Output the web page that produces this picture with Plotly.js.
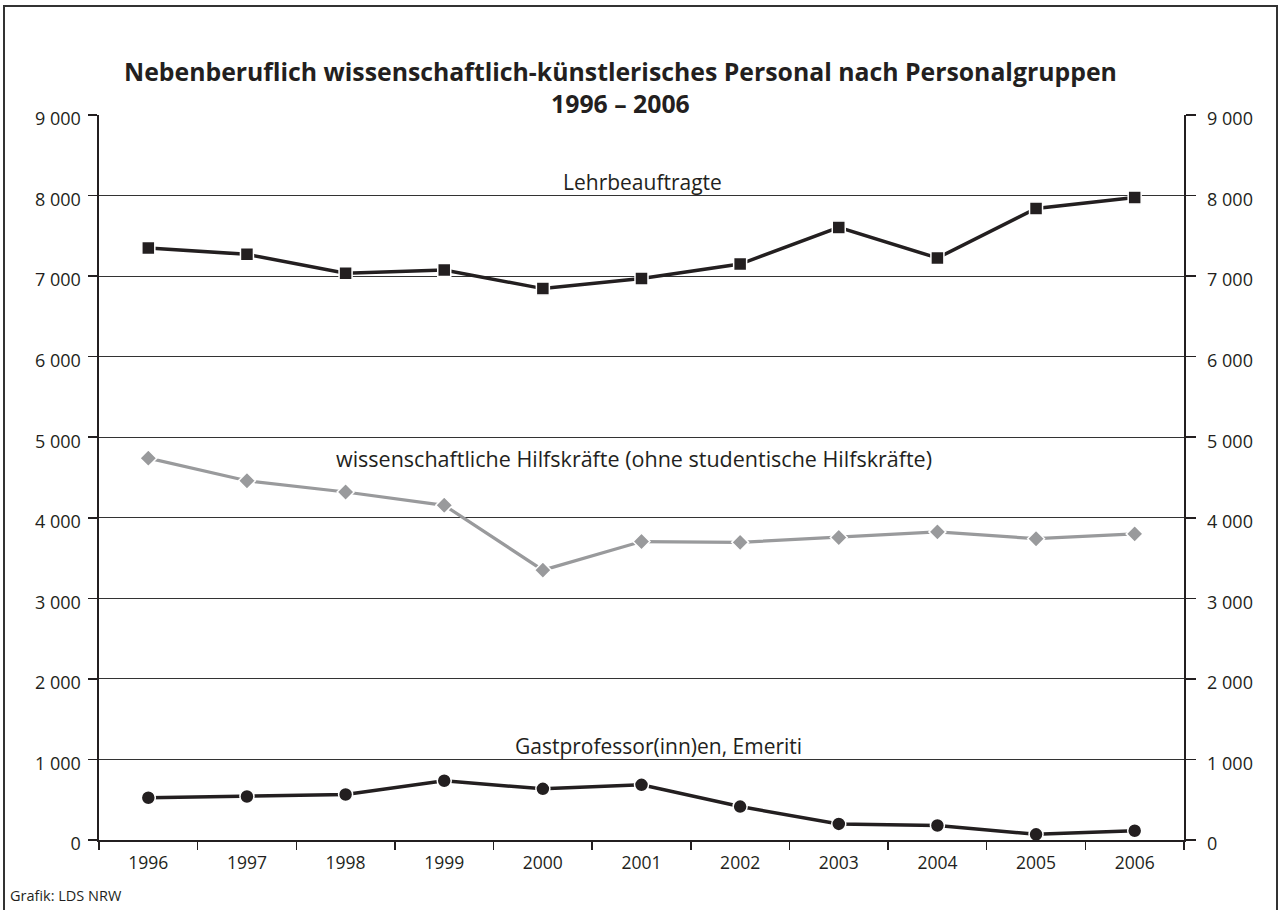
<!DOCTYPE html>
<html>
<head>
<meta charset="utf-8">
<script src="https://cdn.plot.ly/plotly-3.0.1.min.js"></script>
<style>
html,body{margin:0;padding:0;background:#fff;}
#wrap{position:relative;width:1281px;height:910px;overflow:hidden;}
#frame{position:absolute;left:3px;top:5px;width:1275px;height:920px;border:2px solid #333;box-sizing:border-box;pointer-events:none;}
#chart{position:absolute;left:0;top:0;width:1281px;height:910px;}
</style>
</head>
<body>
<div id="wrap"><div id="chart"></div><div id="frame"></div></div>
<script>
const years = ['1996','1997','1998','1999','2000','2001','2002','2003','2004','2005','2006'];
const lehrbeauftragte = [7350, 7270, 7035, 7075, 6845, 6970, 7150, 7605, 7225, 7840, 7975];
const hilfskraefte = [4740, 4460, 4320, 4155, 3350, 3705, 3695, 3755, 3825, 3740, 3800];
const gastprofessoren = [525, 540, 565, 735, 635, 685, 415, 200, 180, 70, 115];
const yTicks = [0,1000,2000,3000,4000,5000,6000,7000,8000,9000];
const yTickText = ['0','1 000','2 000','3 000','4 000','5 000','6 000','7 000','8 000','9 000'];
const titleLines = ['Nebenberuflich wissenschaftlich-künstlerisches Personal nach Personalgruppen', '1996 – 2006'];

const font = 'Open Sans, Noto Sans, sans-serif';
const traces = [
  {x: years, y: lehrbeauftragte, type:'scatter', mode:'lines+markers', name:'Lehrbeauftragte',
   line:{color:'#231f20', width:3.5}, marker:{symbol:'square', size:13, color:'#231f20', line:{color:'#fff', width:1.5}}},
  {x: years, y: hilfskraefte, type:'scatter', mode:'lines+markers', name:'wissenschaftliche Hilfskräfte',
   line:{color:'#999a9c', width:3.2}, marker:{symbol:'diamond', size:13, color:'#999a9c', line:{color:'#fff', width:1.5}}},
  {x: years, y: gastprofessoren, type:'scatter', mode:'lines+markers', name:'Gastprofessor(inn)en, Emeriti',
   line:{color:'#231f20', width:3.5}, marker:{symbol:'circle', size:14, color:'#231f20', line:{color:'#fff', width:1.5}}},
  {x: years, y: gastprofessoren, type:'scatter', mode:'none', yaxis:'y2', showlegend:false, hoverinfo:'skip'}
];

const yCommon = {
  range:[0,9000], tickvals: yTicks, ticktext: yTickText,
  ticks:'outside', ticklen:9.5, tickwidth:1.5, tickcolor:'#231f20',
  showline:true, linecolor:'#231f20', linewidth:2,
  tickfont:{family:font, size:18, color:'#231f20'}, zeroline:false, fixedrange:true,
  ticklabelshift:4
};

const PH = 725, PW = 1085;
const layout = {
  width:1281, height:910,
  margin:{l:99, r:97, t:115, b:70},
  paper_bgcolor:'rgba(0,0,0,0)', plot_bgcolor:'#fff',
  showlegend:false,
  xaxis:{type:'category', range:[-0.5,10.5], tickson:'boundaries', ticks:'outside', ticklen:8, tickwidth:1.5,
         tickcolor:'#231f20', showline:true, linecolor:'#231f20', linewidth:2, showgrid:false,
         tickfont:{family:font, size:17.5, color:'#231f20'}, ticklabelstandoff:6, fixedrange:true},
  yaxis: Object.assign({}, yCommon, {side:'left', showgrid:true, gridcolor:'#333', gridwidth:1, ticklabelstandoff:3}),
  yaxis2: Object.assign({}, yCommon, {side:'right', overlaying:'y', showgrid:false, ticklabelstandoff:8}),
  annotations:[
    {text:'<b>'+titleLines[0]+'<br>'+titleLines[1]+'</b>', xref:'paper', yref:'paper', x:(620-99)/PW, y:(840-87)/PH,
     showarrow:false, yanchor:'middle', align:'center',
     font:{family:font, size:24.8, color:'#231f20'}},
    {text:'Lehrbeauftragte', xref:'paper', yref:'y', x:(642.5-99)/PW, y:8170, showarrow:false, yanchor:'middle',
     font:{family:font, size:21, color:'#231f20'}},
    {text:'wissenschaftliche Hilfskräfte (ohne studentische Hilfskräfte)', xref:'paper', yref:'y', x:(634-99)/PW, y:4735, showarrow:false, yanchor:'middle',
     font:{family:font, size:21.5, color:'#231f20'}},
    {text:'Gastprofessor(inn)en, Emeriti', xref:'paper', yref:'y', x:(658-99)/PW, y:1170, showarrow:false, yanchor:'middle',
     font:{family:font, size:21, color:'#231f20'}},
    {text:'Grafik: LDS NRW', xref:'paper', yref:'paper', x:-91/PW, xanchor:'left', y:-55/PH, yanchor:'middle', showarrow:false,
     font:{family:font, size:14.5, color:'#231f20'}}
  ]
};

Plotly.newPlot('chart', traces, layout, {displayModeBar:false, staticPlot:true});
</script>
</body>
</html>
